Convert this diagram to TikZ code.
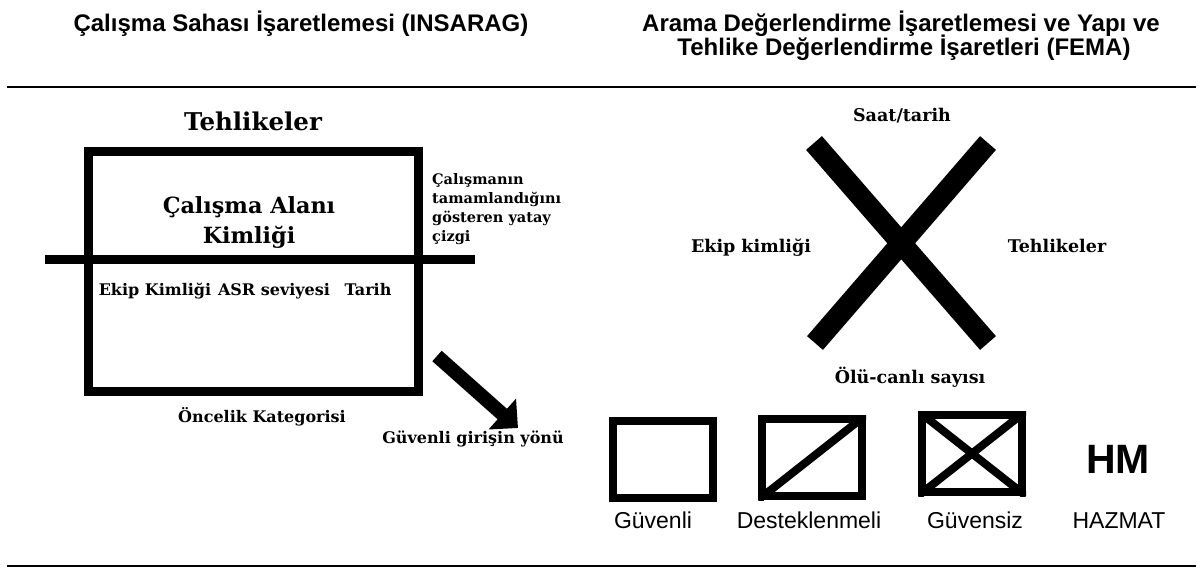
\documentclass[tikz,border=0pt]{standalone}
\usepackage{fontspec}
\setmainfont{DejaVu Serif}
\newfontfamily\arialfont{Liberation Sans}
\usetikzlibrary{arrows.meta,positioning}
\newcommand{\fsz}[1]{\fontsize{#1}{#1}\selectfont}

\begin{document}
\begin{tikzpicture}[x=1pt, y=-1pt, line cap=butt,
  title/.style={font=\arialfont\bfseries\fsz{24}, inner sep=0, anchor=base},
  big/.style={font=\bfseries\fsz{22}, inner sep=0, anchor=base},
  lab/.style={font=\bfseries\fsz{16}, inner sep=0, anchor=base},
  sign/.style={draw, line width=8pt, minimum width=100pt, minimum height=77pt, inner sep=0},
  signlab/.style={font=\arialfont\fsz{23}, inner sep=0, anchor=base}]
   \useasboundingbox (0,0) rectangle (1203,568);
   \begin{scope}[every node/.style={title}]
    \node (tl) at (301,31) {Çalışma Sahası İşaretlemesi (INSARAG)};
    \node (tr1) at (901,31) {Arama Değerlendirme İşaretlemesi ve Yapı ve};
    \node (tr2) at (904,55) {Tehlike Değerlendirme İşaretleri (FEMA)};
   \end{scope}
   \draw[line width=1.3pt] (7,87) -- (1196,87);
   \draw[line width=2.6pt] (7,87) -- (32,87) (574,87) -- (656,87) (1143,87) -- (1196,87);
   \draw[line width=1.3pt] (7,566) -- (1196,566);
   % INSARAG
   \node[draw, line width=9pt, minimum width=330pt, minimum height=239.5pt, inner sep=0] (site) at (253,271.25) {};
   \coordinate (barL) at (45,259.5);
   \coordinate (barR) at (475,259.5);
   \draw[line width=9pt] (barL) -- (barR);
   \node[big, font=\bfseries\fsz{24.5}] (haz) at (253,130) {Tehlikeler};
   \node[big, font=\bfseries\fsz{22.3}] (id1) at (249,213) {Çalışma Alanı};
   \node[big, font=\bfseries\fsz{22.3}] (id2) at (249,243) {Kimliği};
   \node[inner sep=0, anchor=north west, align=left, font={\bfseries\fontsize{14.5}{19}\selectfont}] (done) at (432,173)
     {Çalışmanın\\tamamlandığını\\gösteren yatay\\çizgi};
   \begin{scope}[every node/.style={lab}]
    \node (team) at (155,295) {Ekip Kimliği};
    \node (asr) at (274,295) {ASR seviyesi};
    \node (date) at (368,295) {Tarih};
    \node (prio) at (262,422) {Öncelik Kategorisi};
    \node (entry) at (473,443) {Güvenli girişin yönü};
   \end{scope}
   \coordinate (arrTail) at (437,356);
   \coordinate (arrTip) at (518,428);
   \draw[line width=14pt, -{Triangle[length=21pt, width=40pt]}] (arrTail) -- (arrTip);
   % FEMA
   \coordinate (xTL) at (814,143);
   \coordinate (xTR) at (988,143);
   \coordinate (xBL) at (815,343);
   \coordinate (xBR) at (988,343);
   \draw[line width=21pt] (xTL) -- (xBR);
   \draw[line width=21pt] (xTR) -- (xBL);
   \begin{scope}[every node/.style={lab, font=\bfseries\fsz{17.5}}]
    \node (time) at (902,121) {Saat/tarih};
    \node (crew) at (751,252) {Ekip kimliği};
    \node (hzr) at (1057,252) {Tehlikeler};
    \node (vict) at (910,383) {Ölü-canlı sayısı};
   \end{scope}
   \node[sign] (safe) at (662.5,459.5) {};
   \node[sign] (shore) at (812,457.5) {};
   \node[sign] (unsafe) at (972,453.5) {};
   \begin{scope}
    \clip (shore.south west) rectangle (shore.north east);
    \draw[line width=8pt] (shore.south west) -- (shore.north east);
   \end{scope}
   \begin{scope}
    \clip (unsafe.south west) rectangle (unsafe.north east);
    \draw[line width=8pt] (unsafe.south west) -- (unsafe.north east);
    \draw[line width=8pt] (unsafe.north west) -- (unsafe.south east);
   \end{scope}
   \node[signlab, font=\arialfont\bfseries\fsz{41}] (hm) at (1118,473) {HM};
   \begin{scope}[every node/.style={signlab}]
    \node (l1) at (653,528) {Güvenli};
    \node (l2) at (809,528) {Desteklenmeli};
    \node (l3) at (975,528) {Güvensiz};
    \node (l4) at (1119,528) {HAZMAT};
   \end{scope}
\end{tikzpicture}
\end{document}
